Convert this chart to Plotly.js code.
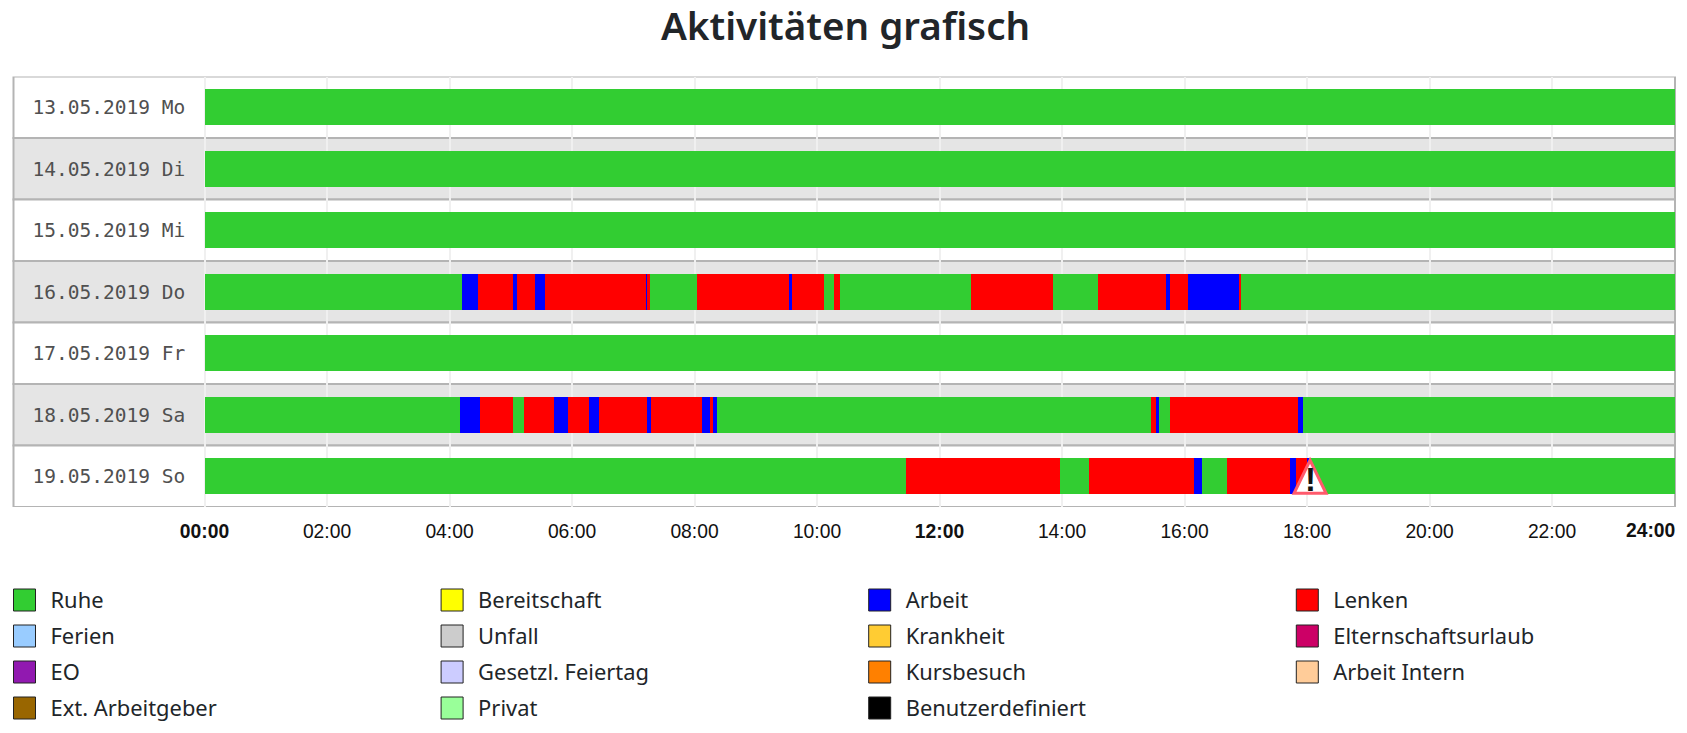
<!DOCTYPE html>
<html><head><meta charset="utf-8">
<script src="https://cdn.plot.ly/plotly-3.0.1.min.js"></script>
<style>html,body{margin:0;padding:0;background:#fff;overflow:hidden}#chart{width:1687px;height:733px}</style>
</head><body><div id="chart"></div>
<script>
// Days, top to bottom
const days = ["13.05.2019 Mo","14.05.2019 Di","15.05.2019 Mi","16.05.2019 Do","17.05.2019 Fr","18.05.2019 Sa","19.05.2019 So"];

// Activity intervals per status: [dayIndex, startHour, endHour]
const ruhe = [
 [0,0,24],[1,0,24],[2,0,24],
 [3,0,4.20],[3,7.28,8.04],[3,10.12,10.27],[3,10.37,12.51],[3,13.85,14.59],[3,16.92,24],
 [4,0,24],
 [5,0,4.17],[5,5.03,5.21],[5,8.37,15.45],[5,15.59,15.77],[5,17.93,24],
 [6,0,11.45],[6,13.96,14.44],[6,16.29,16.70],[6,18.04,24]
];
const arbeit = [
 [3,4.20,4.46],[3,5.03,5.11],[3,5.40,5.56],[3,7.20,7.23],[3,9.54,9.59],[3,15.70,15.76],[3,16.05,16.89],
 [5,4.17,4.49],[5,5.70,5.93],[5,6.27,6.44],[5,7.23,7.29],[5,8.12,8.26],[5,8.31,8.37],[5,15.53,15.59],[5,17.86,17.93],
 [6,16.15,16.29],[6,17.73,17.82],[6,18.00,18.04]
];
const lenken = [
 [3,4.46,5.03],[3,5.11,5.40],[3,5.56,7.20],[3,7.23,7.28],[3,8.04,9.54],[3,9.59,10.12],[3,10.27,10.37],[3,12.51,13.85],[3,14.59,15.70],[3,15.76,16.05],[3,16.89,16.92],
 [5,4.49,5.03],[5,5.21,5.70],[5,5.93,6.27],[5,6.44,7.23],[5,7.29,8.12],[5,8.26,8.31],[5,15.45,15.53],[5,15.77,17.86],
 [6,11.45,13.96],[6,14.44,16.15],[6,16.70,17.73],[6,17.82,18.00]
];

const hourTicks = [0,2,4,6,8,10,12,14,16,18,20,22];
const hourLabels = ["<b>00:00</b>","02:00","04:00","06:00","08:00","10:00","<b>12:00</b>","14:00","16:00","18:00","20:00","22:00"];
const warningHour = 18.05;
const warningDay = 6;

const legendLabels = ["Ruhe","Bereitschaft","Arbeit","Lenken","Ferien","Unfall","Krankheit","Elternschaftsurlaub","EO","Gesetzl. Feiertag","Kursbesuch","Arbeit Intern","Ext. Arbeitgeber","Privat","Benutzerdefiniert"];
const legendColors = ["#32cd32","#ffff00","#0000ff","#ff0000","#99ccff","#cccccc","#ffcc33","#cc0066","#9119b0","#ccccff","#ff8000","#ffcc99","#996600","#99ff99","#000000"];

const W=1687,H=733;
const L=13.5,R=1675,T=76.5,B=507,X0=204.5,PXH=61.25;

function barTrace(name,color,rows){
  return {type:'bar',orientation:'h',name,showlegend:false,hoverinfo:'skip',
    y:rows.map(r=>days[r[0]]),base:rows.map(r=>r[1]),x:rows.map(r=>r[2]-r[1]),
    width:0.578,marker:{color,line:{width:0}}};
}
const traces=[
  barTrace('Ruhe','#32cd32',ruhe),
  barTrace('Arbeit','#0000ff',arbeit),
  barTrace('Lenken','#ff0000',lenken),
  {type:'scatter',mode:'markers',xaxis:'x2',yaxis:'y2',showlegend:false,hoverinfo:'skip',
   x:legendLabels.map((l,i)=>i%4),y:legendLabels.map((l,i)=>Math.floor(i/4)),
   marker:{symbol:'square',size:22,color:legendColors,line:{color:'#222',width:1}}},
  {type:'scatter',mode:'text',xaxis:'x2',yaxis:'y2',showlegend:false,hoverinfo:'skip',
   x:legendLabels.map((l,i)=>i%4+26/427.6),y:legendLabels.map((l,i)=>Math.floor(i/4)+3/36),
   text:legendLabels,textposition:'middle right',
   textfont:{family:'Noto Sans, Open Sans, sans-serif',size:21.9,color:'#212529'}}
];

const shapes=days.map((d,i)=>({type:'rect',layer:'below',xref:'x domain',yref:'y',x0:0,x1:1,y0:i-0.5,y1:i+0.5,
  fillcolor:i%2?'#e5e5e5':'#ffffff',line:{color:'#b4b4b4',width:2}}));
shapes.push({type:'path',layer:'above',xref:'x',yref:'y',xsizemode:'pixel',ysizemode:'pixel',
  xanchor:warningHour,yanchor:warningDay,
  path:'M0,16 L16,-17 L-16,-17 Z',fillcolor:'#ffffff',line:{color:'#ff5a6c',width:3}});

const layout={
  width:W,height:H,autosize:false,margin:{l:0,r:0,t:0,b:0},paper_bgcolor:'#fff',plot_bgcolor:'#fff',
  barmode:'overlay',bargap:0,showlegend:false,
  title:{text:'Aktivitäten grafisch',x:0.5+2/W,xanchor:'center',y:1-26/H,yanchor:'middle',
    font:{family:'Noto Sans, Open Sans, sans-serif',size:38.6,color:'#212529',weight:600}},
  xaxis:{domain:[L/W,R/W],range:[(L-X0)/PXH,(R-X0)/PXH],tickmode:'array',tickvals:hourTicks,ticktext:hourLabels,
    showgrid:true,gridcolor:'#f0f0f0',gridwidth:2,zeroline:false,showline:false,ticks:'',
    tickfont:{family:'Liberation Sans, Arial',size:19.3,color:'#111'},ticklabelstandoff:11,fixedrange:true},
  yaxis:{domain:[1-B/H,1-T/H],type:'category',categoryorder:'array',categoryarray:days,range:[6.5,-0.5],
    showgrid:false,zeroline:false,showline:false,ticks:'',ticklabelposition:'inside',ticklabelstandoff:16,
    tickfont:{family:'DejaVu Sans Mono, monospace',size:19.5,color:'#505050'},fixedrange:true},
  xaxis2:{domain:[0,1],anchor:'y2',range:[-24.5/427.6,(W-24.5)/427.6],visible:false,fixedrange:true},
  yaxis2:{domain:[0,1-575/H],anchor:'x2',range:[(733-600)/36,-25/36],visible:false,fixedrange:true},
  shapes,
  annotations:[
   {text:'<b>24:00</b>',xref:'x',yref:'paper',x:24,y:1-530.7/H,xanchor:'right',xshift:2,yanchor:'middle',showarrow:false,
    font:{family:'Liberation Sans, Arial',size:19.3,color:'#111'}},
   {text:'<b>!</b>',xref:'x',yref:'y',x:warningHour,y:warningDay,yshift:-3,xanchor:'center',yanchor:'middle',showarrow:false,
    font:{family:'Liberation Sans, Arial',size:33,color:'#111'}}
  ]
};
Plotly.newPlot('chart',traces,layout,{displayModeBar:false,staticPlot:true});
</script></body></html>
